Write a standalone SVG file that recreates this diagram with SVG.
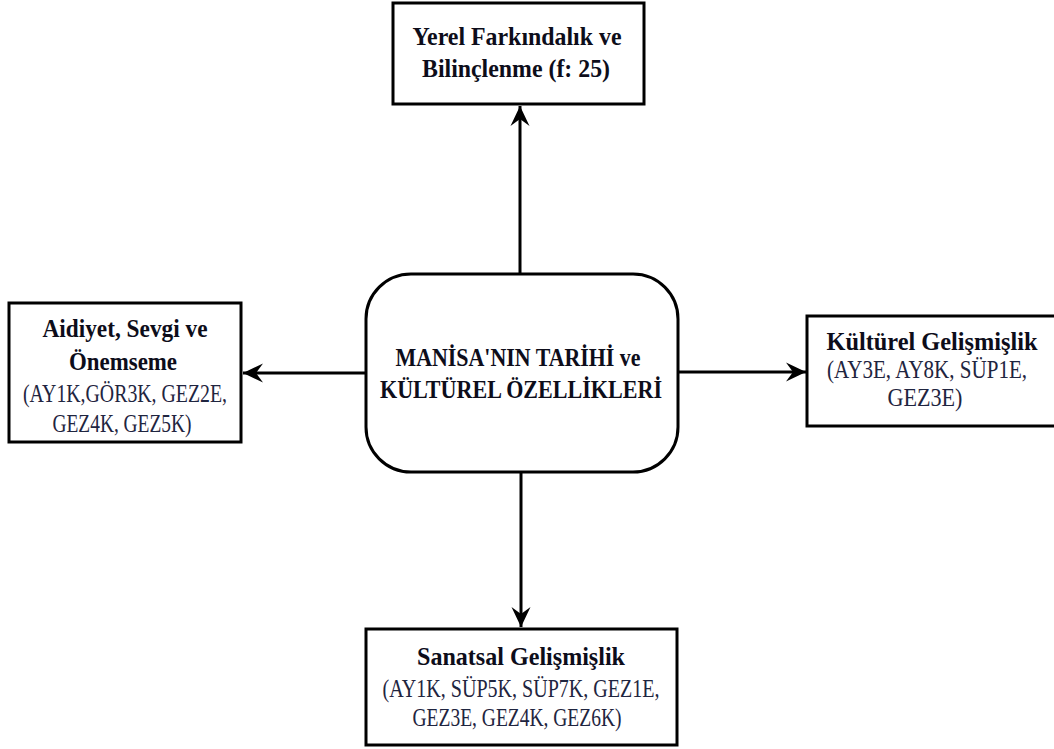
<svg xmlns="http://www.w3.org/2000/svg" width="1054" height="749" viewBox="0 0 1054 749">
<defs>
<style>
.box{fill:#fff;stroke:#000;stroke-width:3}
.b{font-family:'Liberation Serif','DejaVu Serif',serif;font-weight:700;font-size:26px;fill:#0d0d1a;text-anchor:middle}
.r{font-family:'Liberation Serif','DejaVu Serif',serif;font-size:25px;fill:#1f2540;text-anchor:middle}
.c{stroke:#000;stroke-width:3;fill:none}
</style>
<marker id="ah" viewBox="0 0 22 20" refX="21" refY="10" markerWidth="22" markerHeight="20" markerUnits="userSpaceOnUse" orient="auto">
<path d="M21,10 L1,0.5 L8,10 L1,19.5 Z" fill="#000"/>
</marker>
</defs>
<rect width="1054" height="749" fill="#fff"/>
<g id="connectors">
<line class="c" x1="520" y1="273" x2="520" y2="106" marker-end="url(#ah)"/>
<line class="c" x1="366" y1="373" x2="243" y2="373" marker-end="url(#ah)"/>
<line class="c" x1="678" y1="372" x2="806" y2="372" marker-end="url(#ah)"/>
<line class="c" x1="521" y1="472" x2="521" y2="627" marker-end="url(#ah)"/>
</g>
<g id="center">
<rect class="box" x="366" y="274" width="312" height="198" rx="45" ry="45"/>
<text class="b" x="518" y="366" font-size="27" textLength="245" lengthAdjust="spacingAndGlyphs">MANİSA'NIN TARİHİ ve</text>
<text class="b" x="521" y="398" font-size="27" textLength="282" lengthAdjust="spacingAndGlyphs">KÜLTÜREL ÖZELLİKLERİ</text>
</g>
<g id="top">
<rect class="box" x="393" y="3" width="251" height="101"/>
<text class="b" x="517" y="45" textLength="209" lengthAdjust="spacingAndGlyphs">Yerel Farkındalık ve</text>
<text class="b" x="516" y="77" textLength="188" lengthAdjust="spacingAndGlyphs">Bilinçlenme (f: 25)</text>
</g>
<g id="left">
<rect class="box" x="9" y="303" width="232" height="139"/>
<text class="b" x="125" y="337" textLength="165" lengthAdjust="spacingAndGlyphs">Aidiyet, Sevgi ve</text>
<text class="b" x="123" y="370" textLength="108" lengthAdjust="spacingAndGlyphs">Önemseme</text>
<text class="r" x="125" y="402" textLength="204" lengthAdjust="spacingAndGlyphs">(AY1K,GÖR3K, GEZ2E,</text>
<text class="r" x="122" y="432" textLength="139" lengthAdjust="spacingAndGlyphs">GEZ4K, GEZ5K)</text>
</g>
<g id="right">
<rect class="box" x="807" y="316" width="252" height="110"/>
<text class="b" x="932" y="350" textLength="211" lengthAdjust="spacingAndGlyphs">Kültürel Gelişmişlik</text>
<text class="r" x="927" y="378" textLength="200" lengthAdjust="spacingAndGlyphs">(AY3E, AY8K, SÜP1E,</text>
<text class="r" x="925" y="406" textLength="75" lengthAdjust="spacingAndGlyphs">GEZ3E)</text>
</g>
<g id="bottom">
<rect class="box" x="366" y="629" width="311" height="116"/>
<text class="b" x="521" y="665" textLength="208" lengthAdjust="spacingAndGlyphs">Sanatsal Gelişmişlik</text>
<text class="r" x="521" y="697" textLength="277" lengthAdjust="spacingAndGlyphs">(AY1K, SÜP5K, SÜP7K, GEZ1E,</text>
<text class="r" x="517" y="726" textLength="209" lengthAdjust="spacingAndGlyphs">GEZ3E, GEZ4K, GEZ6K)</text>
</g>
</svg>
